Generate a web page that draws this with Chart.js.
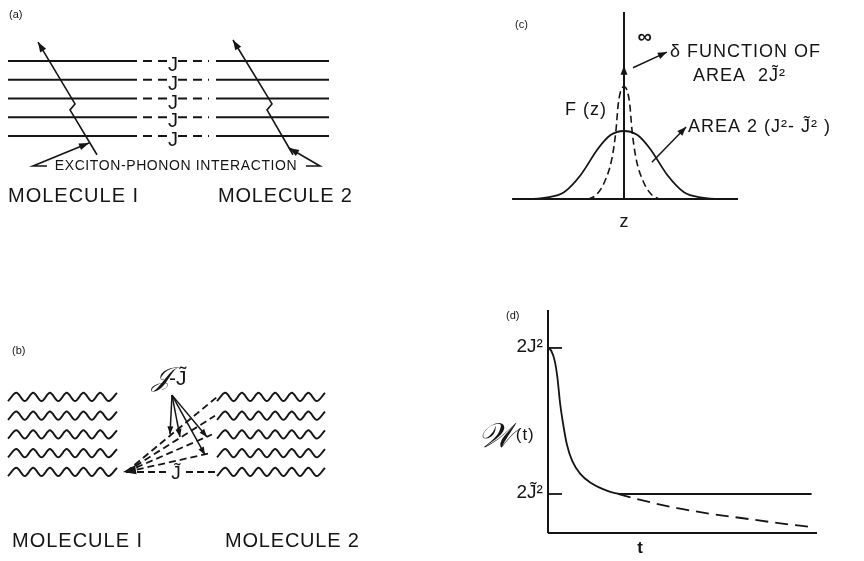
<!DOCTYPE html>
<html>
<head>
<meta charset="utf-8">
<script src="https://cdn.jsdelivr.net/npm/chart.js@4.4.1/dist/chart.umd.min.js"></script>
<style>
  body { margin: 0; background: #fff; }
  .panel { position: absolute; }
</style>
</head>
<body>
<div class="panel" style="left:0;top:0;width:360px;height:215px"><canvas id="panel-a"></canvas></div>
<div class="panel" style="left:0;top:330px;width:360px;height:231px"><canvas id="panel-b"></canvas></div>
<div class="panel" style="left:500px;top:0;width:364px;height:240px"><canvas id="panel-c"></canvas></div>
<div class="panel" style="left:480px;top:300px;width:384px;height:261px"><canvas id="panel-d"></canvas></div>
<script>
// (a) exciton levels of the two molecules, coupled by J
const levels = [1, 2, 3, 4, 5];
const levelSolidLeft = [0.8, 13.7];
const levelDashLeft = [14.3, 16.8];
const levelDashRight = [17.8, 20.9];
const levelSolidRight = [21.6, 32.9];
const phononLeft = [[9.7, 0.0], [7.0, 2.39], [7.5, 2.71], [3.8, 6.01]];
const phononRight = [[29.3, 0.0], [26.7, 2.39], [27.2, 2.71], [23.3, 6.12]];
const pointerLeft = [[4.7, -0.6], [3.3, -0.6], [8.9, 0.63]];
const pointerRight = [[30.6, -0.6], [32.0, -0.6], [28.9, 0.36]];

// (b) dressed levels, fan of couplings from one level
const waveLevels = [1, 2, 3, 4, 5];
const waveLeft = [0.8, 11.7];
const waveRight = [21.7, 32.5];
const fanOrigin = [12.6, 1.0];
const fanEnds = [[21.7, 5.0], [21.5, 4.0], [21.2, 3.0], [21.0, 2.0]];
const fanFlat = [[12.6, 1.0], [16.6, 1.0], [18.6, 1.0], [21.5, 1.0]];
const jArrowFrom = [17.2, 5.1];
const jArrowTips = [[17.0, 3.01], [18.0, 2.87], [20.7, 2.87], [20.5, 1.91]];

// (c) F(z): broad gaussian plus narrow peak -> delta function
const gaussZ = [-3.7, -3.2, -2.6, -2.0, -1.45, -0.85, -0.45, 0, 0.45, 0.85, 1.45, 2.0, 2.6, 3.2, 3.8];
const gaussF = [0, 0, 0.02, 0.1, 0.35, 0.75, 0.94, 1.0, 0.94, 0.75, 0.35, 0.1, 0.02, 0, 0];
const narrowZ = [-1.2, -0.95, -0.65, -0.4, -0.27, -0.19, -0.1, 0, 0.1, 0.19, 0.27, 0.4, 0.65, 0.95, 1.2];
const narrowF = [0, 0.05, 0.25, 0.6, 1.0, 1.4, 1.6, 1.65, 1.6, 1.4, 1.0, 0.6, 0.25, 0.05, 0];

// (d) W(t) in units of 2J^2
const decayT = [0, 0.12, 0.25, 0.35, 0.45, 0.55, 0.7, 0.9, 1.2, 1.6, 2.0, 2.6, 3.0, 9.8];
const decayW = [1.0, 0.985, 0.93, 0.84, 0.70, 0.60, 0.48, 0.39, 0.32, 0.27, 0.24, 0.213, 0.211, 0.211];
const slowT = [2.6, 3.4, 4.8, 6.0, 7.25, 8.5, 9.8];
const slowW = [0.211, 0.18, 0.135, 0.105, 0.08, 0.055, 0.032];
const wTicks = [1.0, 0.211];
const wTickLabels = ['2J\u00b2', '2J\u0303\u00b2'];

const INK = '#151515';
const FONT = "'Liberation Sans', 'DejaVu Sans', sans-serif";

function zip(xs, ys) {
    return xs.map((x, i) => [x, ys[i]]);
}

function line(points, extra) {
    return Object.assign({
        data: points.map(p => ({x: p[0], y: p[1]})),
        showLine: true,
        borderColor: INK,
        backgroundColor: INK,
        borderWidth: 1.8,
        pointRadius: 0,
        tension: 0
    }, extra || {});
}

// a wavy level drawn through its crests and troughs
function wave(span, level) {
    const halfWaves = 13, amp = 0.22, pts = [];
    for (let k = 0; k <= halfWaves; k++) {
        pts.push([span[0] + (span[1] - span[0]) * k / halfWaves, level + (k % 2 ? amp : -amp)]);
    }
    return line(pts, {cubicInterpolationMode: 'monotone', borderWidth: 2});
}

const arrowHeads = {
    id: 'arrowHeads',
    afterDatasetsDraw(chart) {
        const ctx = chart.ctx;
        chart.data.datasets.forEach((ds, i) => {
            if (!ds.arrow) return;
            const pts = chart.getDatasetMeta(i).data;
            const a = pts[pts.length - 2], b = pts[pts.length - 1];
            const ang = Math.atan2(b.y - a.y, b.x - a.x);
            const len = ds.arrow[0], half = ds.arrow[1];
            const c = Math.cos(ang), s = Math.sin(ang);
            ctx.save();
            ctx.fillStyle = INK;
            ctx.beginPath();
            ctx.moveTo(b.x, b.y);
            ctx.lineTo(b.x - len * c + half * s, b.y - len * s - half * c);
            ctx.lineTo(b.x - len * c - half * s, b.y - len * s + half * c);
            ctx.closePath();
            ctx.fill();
            ctx.restore();
        });
    }
};

function makeChart(id, xr, yr, datasets, texts) {
    const labels = {
        id: 'labels',
        afterDatasetsDraw(chart) {
            const ctx = chart.ctx, sx = chart.scales.x, sy = chart.scales.y;
            ctx.save();
            ctx.fillStyle = INK;
            ctx.textBaseline = 'middle';
            texts.forEach(t => {
                ctx.font = (t.style || '') + ' ' + (t.weight || 'normal') + ' ' + t.size + 'px ' + (t.family || FONT);
                ctx.textAlign = t.align || 'left';
                ctx.letterSpacing = (t.spacing || 0) + 'px';
                ctx.fillText(t.text, sx.getPixelForValue(t.x), sy.getPixelForValue(t.y));
            });
            ctx.restore();
        }
    };
    return new Chart(document.getElementById(id), {
        type: 'scatter',
        data: {datasets: datasets},
        options: {
            responsive: true,
            maintainAspectRatio: false,
            animation: false,
            layout: {padding: 0},
            plugins: {legend: {display: false}, tooltip: {enabled: false}},
            scales: {
                x: {type: 'linear', display: false, min: xr[0], max: xr[1]},
                y: {type: 'linear', display: false, min: yr[0], max: yr[1]}
            }
        },
        plugins: [arrowHeads, labels]
    });
}

// ---- panel (a)
const aSets = [];
levels.forEach(l => {
    aSets.push(line([[levelSolidLeft[0], l], [levelSolidLeft[1], l]], {borderWidth: 2}));
    aSets.push(line([[levelDashLeft[0], l], [levelDashLeft[1], l]], {borderWidth: 2, borderDash: [9, 6]}));
    aSets.push(line([[levelDashRight[0], l], [levelDashRight[1], l]], {borderWidth: 2, borderDash: [9, 6]}));
    aSets.push(line([[levelSolidRight[0], l], [levelSolidRight[1], l]], {borderWidth: 2}));
});
aSets.push(line(phononLeft, {borderWidth: 1.6, arrow: [10, 3.5]}));
aSets.push(line(phononRight, {borderWidth: 1.6, arrow: [10, 3.5]}));
aSets.push(line(pointerLeft, {borderWidth: 1.6, arrow: [10, 3.5]}));
aSets.push(line(pointerRight, {borderWidth: 1.6, arrow: [10, 3.5]}));
const aTexts = [{text: '(a)', x: 0.9, y: 7.45, size: 11}];
levels.forEach(l => aTexts.push({text: 'J', x: 17.3, y: l - 0.25, size: 20, align: 'center'}));
aTexts.push({text: 'EXCITON-PHONON INTERACTION', x: 17.6, y: -0.6, size: 14, align: 'center', spacing: 0.6});
aTexts.push({text: 'MOLECULE I', x: 0.8, y: -2.2, size: 20, spacing: 1});
aTexts.push({text: 'MOLECULE 2', x: 21.8, y: -2.2, size: 20, spacing: 0.8});
makeChart('panel-a', [0, 36], [-3.213, 8.253], aSets, aTexts);

// ---- panel (b)
const bSets = [];
waveLevels.forEach(l => {
    bSets.push(wave(waveLeft, l));
    bSets.push(wave(waveRight, l));
});
fanEnds.forEach(e => bSets.push(line([fanOrigin, e], {borderWidth: 1.8, borderDash: [7, 4]})));
bSets.push(line(fanFlat.slice(0, 2), {borderWidth: 1.8, borderDash: [7, 4]}));
bSets.push(line(fanFlat.slice(2), {borderWidth: 1.8, borderDash: [7, 4]}));
bSets.push(line([[13.9, 1.15], [12.3, 1.0]], {borderWidth: 0, arrow: [13, 4.5]}));
jArrowTips.forEach(tip => bSets.push(line([jArrowFrom, tip], {borderWidth: 1.5, arrow: [8, 3]})));
const bTexts = [
    {text: '(b)', x: 1.2, y: 7.45, size: 11},
    {text: '\ud835\udca5', x: 16.1, y: 5.95, size: 27, align: 'center', family: "'DejaVu Serif', serif", style: 'italic'},
    {text: '-J\u0303', x: 16.9, y: 5.95, size: 21},
    {text: 'J\u0303', x: 17.6, y: 0.92, size: 19, align: 'center'},
    {text: 'MOLECULE I', x: 1.2, y: -2.68, size: 20, spacing: 1},
    {text: 'MOLECULE 2', x: 22.5, y: -2.68, size: 20, spacing: 0.8}
];
makeChart('panel-b', [0, 36], [-3.747, 8.573], bSets, bTexts);

// ---- panel (c)
const cSets = [
    line([[-3.73, 0], [3.8, 0]], {borderWidth: 2}),
    line([[0, 0], [0, 2.75]], {borderWidth: 2}),
    line([[0, 1.7], [0, 1.96]], {borderWidth: 2, arrow: [9, 3.5]}),
    line(zip(gaussZ, gaussF), {borderWidth: 1.8, cubicInterpolationMode: 'monotone'}),
    line(zip(narrowZ, narrowF), {borderWidth: 1.6, borderDash: [7, 4], cubicInterpolationMode: 'monotone'}),
    line([[0.3, 1.93], [1.43, 2.16]], {borderWidth: 1.5, arrow: [9, 3.5]}),
    line([[0.93, 0.54], [2.07, 1.06]], {borderWidth: 1.5, arrow: [9, 3.5]})
];
const cTexts = [
    {text: '(c)', x: -3.63, y: 2.56, size: 11},
    {text: '\u221e', x: 0.45, y: 2.37, size: 20, weight: 'bold'},
    {text: '\u03b4 FUNCTION OF', x: 1.53, y: 2.16, size: 18, spacing: 1},
    {text: 'AREA  2J\u0303\u00b2', x: 2.3, y: 1.81, size: 18, spacing: 1},
    {text: 'F (z)', x: -1.97, y: 1.31, size: 18, spacing: 1},
    {text: 'AREA 2 (J\u00b2- J\u0303\u00b2 )', x: 2.13, y: 1.06, size: 18, spacing: 1},
    {text: 'z', x: 0, y: -0.34, size: 18, align: 'center'}
];
makeChart('panel-c', [-4.133, 8.0], [-0.603, 2.926], cSets, cTexts);

// ---- panel (d)
const dSets = [
    line([[0, 0], [0, 1.205]], {borderWidth: 2}),
    line([[0, 0], [10, 0]], {borderWidth: 2})
];
wTicks.forEach(w => dSets.push(line([[0, w], [0.52, w]], {borderWidth: 1.8})));
dSets.push(line(zip(decayT, decayW), {borderWidth: 1.8, cubicInterpolationMode: 'monotone'}));
dSets.push(line(zip(slowT, slowW), {borderWidth: 1.8, borderDash: [13, 7], cubicInterpolationMode: 'monotone'}));
const dTexts = [
    {text: '(d)', x: -1.56, y: 1.173, size: 11},
    {text: '\ud835\udcb2', x: -1.25, y: 0.515, size: 34, align: 'right', family: "'DejaVu Serif', serif", style: 'italic'},
    {text: '(t)', x: -1.2, y: 0.53, size: 17, spacing: 1},
    {text: 't', x: 3.42, y: -0.081, size: 17, align: 'center', weight: 'bold'}
];
wTicks.forEach((w, i) => dTexts.push({text: wTickLabels[i], x: -0.19, y: w + 0.005, size: 19, align: 'right'}));
makeChart('panel-d', [-2.528, 11.747], [-0.151, 1.259], dSets, dTexts);
</script>
</body>
</html>
